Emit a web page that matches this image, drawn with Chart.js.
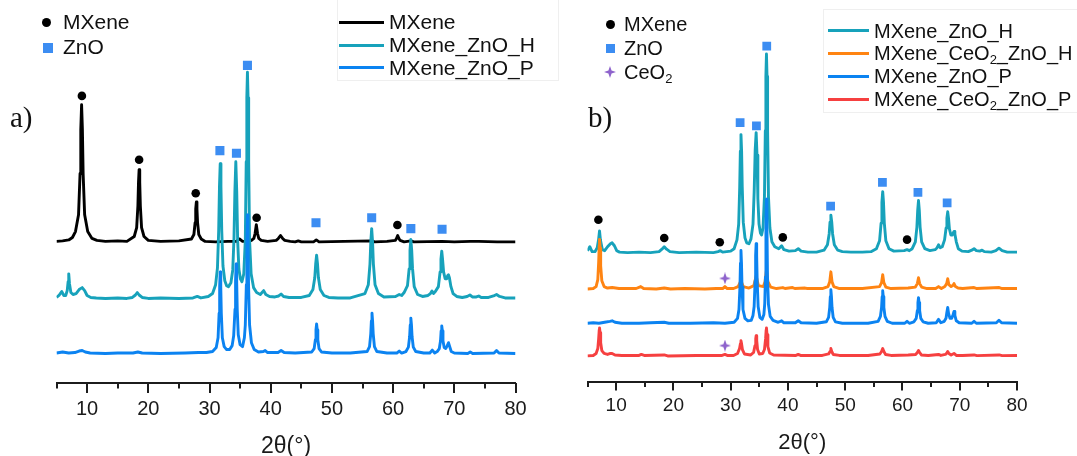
<!DOCTYPE html>
<html>
<head>
<meta charset="utf-8">
<script src="https://cdn.jsdelivr.net/npm/chart.js@4.4.1/dist/chart.umd.min.js"></script>
<style>
  body { margin: 0; background: #fff; width: 1077px; height: 456px; overflow: hidden; position: relative;
         font-family: "Liberation Sans", Arial, sans-serif; color: #111; }
  canvas { position: absolute; top: 0; }
  #chartA { left: 0; }
  #chartB { left: 540px; }
  .lbl { position: absolute; font-size: 21px; line-height: 24px; white-space: nowrap; }
  .lb { font-size: 20px; }
  .sw { position: absolute; height: 3px; }
  .dot { position: absolute; width: 9px; height: 9px; border-radius: 50%; background: #000; }
  .sq { position: absolute; background: #3c8df2; }
  .panel { position: absolute; font-family: "Liberation Serif", "Times New Roman", serif; font-size: 29px; line-height: 30px; }
  .box { position: absolute; border: 1px solid #efefef; }
  sub { font-size: 13px; vertical-align: -4px; line-height: 0; }
</style>
</head>
<body>
<canvas id="chartA" width="540" height="456"></canvas>
<canvas id="chartB" width="537" height="456"></canvas>

<!-- panel a keys -->
<div class="box" style="left:337px;top:-2px;width:220px;height:81px"></div>
<div class="panel" style="left:10px;top:102px">a)</div>
<div class="dot" style="left:42px;top:18px"></div>
<div class="lbl" style="left:63px;top:10px">MXene</div>
<div class="sq" style="left:43px;top:43px;width:10px;height:10px"></div>
<div class="lbl" style="left:63px;top:35px">ZnO</div>
<div class="sw" style="left:339px;top:21px;width:45px;background:#000"></div>
<div class="lbl" style="left:389px;top:10px">MXene</div>
<div class="sw" style="left:339px;top:44px;width:45px;background:#17a2bb"></div>
<div class="lbl" style="left:389px;top:33px">MXene_ZnO_H</div>
<div class="sw" style="left:339px;top:66px;width:45px;background:#0b83f1"></div>
<div class="lbl" style="left:389px;top:56px">MXene_ZnO_P</div>

<!-- panel b keys -->
<div class="box" style="left:823px;top:9px;width:260px;height:102px"></div>
<div class="panel" style="left:588px;top:102px">b)</div>
<div class="dot" style="left:606px;top:20px"></div>
<div class="lbl lb" style="left:624px;top:12px">MXene</div>
<div class="sq" style="left:606px;top:44px;width:9px;height:9px"></div>
<div class="lbl lb" style="left:624px;top:36px">ZnO</div>
<div id="starKey" style="position:absolute;left:604px;top:66px;width:12px;height:12px"></div>
<div class="lbl lb" style="left:624px;top:60px">CeO<sub>2</sub></div>
<div class="sw" style="left:828px;top:29px;width:41px;background:#17a2bb"></div>
<div class="lbl lb" style="left:874px;top:19px">MXene_ZnO_H</div>
<div class="sw" style="left:828px;top:52px;width:41px;background:#ff8412"></div>
<div class="lbl lb" style="left:874px;top:41px">MXene_CeO<sub>2</sub>_ZnO_H</div>
<div class="sw" style="left:828px;top:75px;width:41px;background:#0b83f1"></div>
<div class="lbl lb" style="left:874px;top:64px">MXene_ZnO_P</div>
<div class="sw" style="left:828px;top:98px;width:41px;background:#f64040"></div>
<div class="lbl lb" style="left:874px;top:87px">MXene_CeO<sub>2</sub>_ZnO_P</div>

<script>
// ---- axis ----
const majorTicks = [10, 20, 30, 40, 50, 60, 70, 80];
const minorTicks = [5, 15, 25, 35, 45, 55, 65, 75];

// ---- panel a patterns: [2theta, counts above the trace's own baseline] ----
const mxeneA = [
  [5, 1], [6, 1.5], [7, 2.5], [7.6, 5], [8.1, 11], [8.6, 28], [8.85, 70], [8.97, 115], [9.1, 140], [9.23, 115],
  [9.35, 70], [9.6, 28], [10.1, 11], [10.8, 4], [11.6, 2], [13, 1], [15, 1.5], [16.5, 1], [17.7, 6], [18.1, 15],
  [18.3, 37], [18.4, 61], [18.5, 74], [18.6, 61], [18.7, 37], [18.9, 15], [19.3, 6], [20, 2], [22, 1], [25, 1.5],
  [27.05, 3.5], [27.45, 8], [27.65, 20], [27.75, 34], [27.85, 41], [27.95, 34], [28.05, 20], [28.25, 8], [28.65, 3.5], [29.3, 1],
  [31, 0.5], [33, 1], [34.4, 1], [34.9, 3.5], [35.4, 1], [36.4, 1], [36.85, 2], [37.25, 4], [37.45, 9], [37.65, 18],
  [37.85, 9], [38.05, 4], [38.45, 2], [39.5, 1], [40.9, 2], [41.25, 4], [41.6, 7], [41.95, 4], [42.3, 2], [43.2, 1],
  [44, 0.5], [44.5, 1.5], [45, 0.5], [47, 0.5], [47.45, 2.5], [47.9, 0.5], [52, 1], [56.5, 1.5], [57, 0.5], [59, 1],
  [60.35, 2], [60.55, 4], [60.75, 7], [60.95, 4], [61.15, 2], [61.8, 0.5], [62.9, 1.5], [63.4, 0.5], [68, 1], [70, 0.5],
  [72.6, 1], [74, 1], [77, 0.5], [80, 0.5]
];
const znoHA = [
  [5, 2], [5.4, 4], [5.85, 8], [6.2, 4], [6.5, 4], [6.75, 9], [6.9, 18], [7.0, 26], [7.12, 16], [7.35, 7],
  [7.7, 5], [8.2, 6], [8.7, 10], [9.2, 12], [9.6, 9], [10.0, 4], [10.6, 2], [11.5, 1.5], [13, 1], [15, 1.5],
  [16.5, 1], [17.4, 2], [17.9, 4.5], [18.2, 7], [18.5, 4.5], [19.0, 2], [20, 1], [22, 1.5], [25, 1], [27.3, 1.5],
  [28.0, 3], [28.6, 1.5], [29.8, 3], [30.5, 6], [31.0, 15], [31.3, 32], [31.5, 70], [31.63, 115], [31.75, 138], [31.87, 115],
  [32.0, 70], [32.2, 34], [32.5, 19], [32.8, 14], [33.1, 13], [33.5, 17], [33.8, 30], [34.0, 62], [34.15, 110], [34.3, 140],
  [34.45, 110], [34.6, 60], [34.8, 31], [35.05, 21], [35.3, 18], [35.6, 26], [35.85, 60], [36.0, 140], [36.1, 205], [36.2, 231],
  [36.3, 205], [36.4, 140], [36.55, 60], [36.8, 26], [37.2, 12], [37.7, 7], [38.3, 5], [38.85, 9], [39.2, 5], [39.8, 3],
  [40.7, 2.5], [41.3, 3.5], [41.7, 5.5], [42.1, 3], [43, 2], [45, 2], [46.3, 4], [46.9, 10], [47.2, 22], [47.35, 36],
  [47.5, 45], [47.65, 36], [47.8, 22], [48.1, 10], [48.7, 4], [49.5, 2], [51, 1.5], [53, 1.5], [55.4, 6], [55.95, 15],
  [56.22, 36], [56.36, 59], [56.5, 72], [56.64, 59], [56.78, 36], [57.05, 15], [57.6, 6], [58.5, 2.5], [60.4, 3], [61.0, 5],
  [61.4, 4], [61.8, 7], [62.35, 14], [62.62, 31], [62.76, 50], [62.9, 61], [63.04, 50], [63.18, 31], [63.45, 13], [64.0, 5],
  [64.8, 3], [65.7, 4], [66.1, 6], [66.35, 8.5], [66.6, 6], [66.9, 8], [67.4, 13], [67.68, 28], [67.82, 41], [67.95, 49],
  [68.08, 41], [68.25, 28], [68.5, 21], [68.75, 21], [68.9, 24], [69.05, 25], [69.2, 22], [69.45, 13], [69.8, 6], [70.4, 3],
  [71.3, 2], [72.1, 3], [72.55, 4.5], [72.95, 2.5], [73.6, 2.5], [74.0, 3.5], [74.4, 2], [75.6, 2], [76.4, 3.5], [76.9, 5],
  [77.4, 3], [78.3, 1.5], [80, 1.5]
];
const znoPA = [
  [5, 1.5], [6, 2.5], [7, 1.5], [8, 2], [8.7, 3.5], [9.2, 4], [9.7, 2.5], [10.5, 1.5], [13, 1], [15, 1.5],
  [17.5, 1.5], [18.3, 2.5], [19, 1.5], [22, 1], [26, 1.5], [28.2, 2], [29.5, 2], [30.5, 3], [31.1, 7], [31.4, 17],
  [31.57, 42], [31.66, 69], [31.75, 84], [31.84, 69], [31.93, 42], [32.1, 17], [32.4, 8], [32.8, 5], [33.3, 5], [33.7, 9],
  [33.95, 19], [34.17, 46], [34.26, 75], [34.35, 92], [34.44, 75], [34.53, 46], [34.7, 20], [35.0, 10], [35.4, 8], [35.7, 17],
  [35.85, 30], [36.02, 71], [36.11, 116], [36.2, 142], [36.29, 116], [36.38, 71], [36.55, 30], [36.85, 12], [37.3, 5], [38.0, 2.5],
  [38.8, 3], [39.1, 4], [39.5, 2], [41.2, 2], [41.7, 4], [42.2, 2], [44, 1.5], [46.7, 2.5], [47.1, 6], [47.3, 15],
  [47.4, 25], [47.5, 31], [47.6, 25], [47.7, 15], [47.9, 6], [48.3, 2.5], [50, 1.5], [53, 1.5], [55.75, 3], [56.15, 8],
  [56.35, 21], [56.45, 34], [56.55, 42], [56.65, 34], [56.75, 21], [56.95, 8], [57.35, 3], [59, 1.5], [60.6, 1.5], [61.0, 3.5],
  [61.4, 1.5], [62.1, 3], [62.5, 7.5], [62.7, 18], [62.8, 30], [62.9, 37], [63.0, 30], [63.1, 18], [63.3, 7.5], [63.7, 3],
  [65, 1.5], [66.0, 1.5], [66.4, 4.5], [66.8, 1.5], [67.2, 3], [67.55, 6], [67.75, 14], [67.85, 24], [67.95, 29], [68.05, 24],
  [68.15, 14], [68.35, 7], [68.6, 6], [68.85, 9], [69.05, 12], [69.25, 8], [69.5, 3], [70, 1.5], [72.2, 1], [72.6, 2.5],
  [73, 1], [76.5, 1.5], [76.9, 4], [77.3, 1.5], [80, 1]
];
const offsetsA = [143, 85, 29];
const namesA = ["MXene", "MXene_ZnO_H", "MXene_ZnO_P"];
const colorsA = ["#000000", "#17a2bb", "#0b83f1"];

// reflection markers, panel a
const mxeneMarksA = [[9.15, 292], [18.5, 227], [27.75, 193], [37.7, 168], [60.7, 160.7]];
const znoMarksA = [[31.7, 236.3], [34.4, 233.7], [36.2, 323], [47.4, 163], [56.5, 168], [62.9, 157], [68.0, 156.3]];

// ---- panel b patterns ----
const znoHB = [
  [5, 3], [5.4, 7], [5.8, 2], [6.3, 2], [6.7, 6], [6.95, 15], [7.1, 23], [7.25, 14], [7.6, 4], [8.0, 3],
  [8.5, 7], [9.0, 10], [9.3, 11], [9.7, 8], [10.1, 3], [10.6, 1.5], [12, 1], [14, 1.5], [16, 1], [17.5, 2],
  [18.0, 4.5], [18.4, 7], [18.8, 4.5], [19.4, 2], [21, 1], [24, 1.5], [27, 1], [27.8, 2], [28.2, 3], [28.6, 1.5],
  [30, 2.5], [30.6, 5], [31.1, 14], [31.4, 30], [31.58, 68], [31.69, 104], [31.8, 121], [31.91, 104], [32.02, 68], [32.2, 32],
  [32.5, 16], [32.8, 11], [33.2, 10], [33.55, 15], [33.9, 30], [34.1, 62], [34.28, 105], [34.45, 123], [34.6, 100], [34.75, 56],
  [34.95, 30], [35.2, 21], [35.4, 19], [35.65, 26], [35.9, 58], [36.05, 125], [36.15, 180], [36.25, 203], [36.35, 180], [36.45, 125],
  [36.6, 58], [36.85, 26], [37.2, 12], [37.7, 7], [38.4, 5], [38.9, 8], [39.3, 4], [40.2, 2.5], [41.3, 3], [41.8, 5],
  [42.3, 2.5], [43.5, 1.5], [45, 1.5], [46.3, 3.5], [46.9, 9], [47.2, 20], [47.35, 32], [47.5, 39], [47.65, 32], [47.8, 20],
  [48.1, 9], [48.7, 3.5], [49.5, 2], [51, 1.5], [53, 1.5], [54.5, 2], [55.45, 5], [56.0, 13], [56.27, 31], [56.41, 52],
  [56.55, 63], [56.69, 52], [56.83, 31], [57.1, 13], [57.65, 5], [58.5, 2.5], [60.3, 3], [60.8, 4], [61.2, 3], [61.7, 5],
  [62.25, 12], [62.52, 27], [62.66, 44], [62.8, 54], [62.94, 44], [63.08, 27], [63.35, 12], [63.9, 5], [64.8, 3], [65.7, 4],
  [66.05, 6], [66.3, 9], [66.6, 6], [66.95, 7], [67.35, 14], [67.62, 26], [67.76, 36], [67.9, 42.5], [68.04, 36], [68.2, 25],
  [68.45, 19], [68.7, 19], [68.85, 21], [69.0, 22.5], [69.15, 20], [69.4, 12], [69.75, 5], [70.4, 2.5], [71.5, 2], [72.1, 3.5],
  [72.5, 5], [72.9, 3], [73.5, 2.5], [73.9, 3.5], [74.3, 2], [75.5, 1.5], [76.3, 3], [76.85, 5.5], [77.4, 3], [78.3, 1.5],
  [80, 1.5]
];
const ceoHB = [
  [5, 0.5], [6, 1], [6.5, 3], [6.8, 10], [6.95, 28], [7.05, 45], [7.1, 51], [7.2, 42], [7.3, 24], [7.5, 9],
  [7.9, 3], [8.5, 1.5], [9.3, 2], [10.5, 1], [13.5, 1], [14.3, 3], [14.8, 1], [17, 0.5], [18.4, 1.5], [19.5, 0.5],
  [22, 1], [25.5, 0.5], [27.5, 1], [28.6, 1], [29.0, 3], [29.4, 1], [30.5, 1], [31.3, 3], [31.8, 9], [32.2, 3],
  [33.2, 1.5], [34.05, 4], [34.45, 14], [34.85, 4], [35.7, 3], [36.0, 8], [36.25, 20], [36.5, 8], [37, 2.5], [38, 1],
  [39.1, 2], [39.5, 1], [40.8, 2], [41.2, 1], [43, 1.5], [43.4, 1], [46, 1], [47.0, 3], [47.3, 8], [47.5, 18],
  [47.7, 8], [48.0, 3], [49, 1], [53, 1], [56.0, 3], [56.35, 7], [56.55, 15], [56.75, 7], [57.1, 2.5], [58, 1],
  [61, 1.5], [62.25, 2.5], [62.6, 6], [62.8, 12], [63.0, 6], [63.35, 2.5], [64.3, 1], [65.8, 1], [66.3, 3], [66.8, 1],
  [67.4, 3], [67.72, 6], [67.9, 11], [68.1, 5], [68.5, 3], [68.8, 4], [69.0, 6], [69.25, 3], [69.7, 1.5], [70.5, 1],
  [72.5, 2], [73, 1], [76.9, 2], [77.4, 1], [80, 1]
];
const znoPB = [
  [5, 1], [6, 1.5], [7, 1], [8, 2], [8.9, 3], [9.3, 3.5], [9.8, 2], [11, 1], [14, 1], [16, 1.5],
  [18.4, 2], [19.2, 1], [23, 1], [27, 1.5], [29, 1], [30.6, 2], [31.2, 6], [31.45, 15], [31.62, 38], [31.71, 62],
  [31.8, 75], [31.89, 62], [31.98, 38], [32.15, 15], [32.5, 6], [33.0, 3.5], [33.6, 4], [33.9, 9], [34.1, 18], [34.27, 44],
  [34.36, 70], [34.45, 82], [34.54, 70], [34.63, 44], [34.8, 18], [35.1, 7], [35.5, 5], [35.8, 10], [35.95, 21], [36.07, 48],
  [36.16, 98], [36.25, 127], [36.34, 98], [36.43, 48], [36.6, 20], [36.9, 8], [37.4, 4], [38.3, 2], [38.9, 3.5], [39.3, 1.5],
  [41.3, 1.5], [41.8, 3.5], [42.3, 1.5], [45, 1], [46.7, 2.5], [47.1, 7], [47.3, 17], [47.4, 28], [47.5, 35], [47.6, 28],
  [47.7, 17], [47.9, 7], [48.3, 2.5], [49.5, 1], [54, 1], [55.75, 3], [56.15, 8], [56.35, 17], [56.45, 28], [56.55, 34],
  [56.65, 28], [56.75, 17], [56.95, 8], [57.35, 3], [58.2, 1], [60.4, 1], [60.8, 3], [61.2, 1], [62.0, 2.5], [62.4, 6],
  [62.6, 14], [62.7, 22], [62.8, 27], [62.9, 22], [63.0, 14], [63.2, 6], [63.6, 2.5], [64.5, 1], [65.9, 1.5], [66.3, 5],
  [66.7, 1.5], [67.3, 3], [67.6, 6], [67.75, 12], [67.9, 17], [68.05, 11], [68.3, 6], [68.6, 6], [68.85, 10], [69.0, 13],
  [69.15, 9], [69.4, 3.5], [69.9, 1.5], [72.1, 1], [72.5, 3], [72.9, 1], [76.4, 1.5], [76.85, 4], [77.3, 1.5], [80, 1]
];
const ceoPB = [
  [5, 0.5], [6, 1], [6.5, 3], [6.8, 8], [6.95, 18], [7.05, 27], [7.1, 29], [7.2, 24], [7.3, 14], [7.5, 6],
  [7.9, 3], [8.5, 2], [9.0, 3], [9.3, 3], [9.8, 1.5], [11, 1], [14, 1], [14.4, 2], [14.9, 1], [18.4, 1.5],
  [19, 0.5], [24, 1], [28.5, 1], [29.0, 2], [29.4, 1], [30.5, 1], [31.2, 3], [31.55, 8], [31.7, 13], [31.8, 16],
  [31.9, 13], [32.05, 7], [32.4, 2.5], [33.5, 1.5], [34.0, 4], [34.25, 11], [34.38, 18], [34.45, 21], [34.55, 16], [34.7, 7],
  [35.0, 2.5], [35.6, 3], [35.9, 7], [36.1, 18], [36.2, 27], [36.25, 29], [36.35, 22], [36.5, 10], [36.8, 3.5], [37.5, 1.5],
  [41.4, 1], [41.8, 2], [42.2, 1], [46, 1], [47.1, 2.5], [47.35, 5], [47.5, 8], [47.65, 5], [47.9, 2], [49, 1],
  [54, 1], [56.05, 2.5], [56.35, 5], [56.55, 8], [56.75, 5], [57.05, 2], [58, 1], [61, 1.5], [62.3, 2], [62.6, 4],
  [62.8, 6], [63.0, 4], [63.3, 1.5], [64.5, 1], [66.3, 2], [66.7, 1], [67.5, 2], [67.75, 3.5], [67.9, 5], [68.1, 3],
  [68.5, 1.5], [69.0, 3], [69.4, 1], [70.5, 1], [72.5, 1.5], [73, 0.8], [76.9, 1.5], [77.4, 0.8], [80, 1]
];
const offsetsB = [130.5, 94, 58.7, 26];
const namesB = ["MXene_ZnO_H", "MXene_CeO2_ZnO_H", "MXene_ZnO_P", "MXene_CeO2_ZnO_P"];
const colorsB = ["#17a2bb", "#ff8412", "#0b83f1", "#f64040"];

// reflection markers, panel b
const mxeneMarksB = [[6.9, 165], [18.4, 146.3], [28.1, 142], [39.1, 147], [60.8, 144.7]];
const znoMarksB = [[31.65, 263.7], [34.5, 260.3], [36.3, 341.3], [47.45, 178.7], [56.5, 203], [62.7, 192.7], [67.8, 182]];
const ceoMarksB = [[29.0, 105.3], [29.0, 37]];

// ---- helpers ----
const FONT = "'Liberation Sans', Arial, sans-serif";
const AXIS_COLOR = "#1c1c1c";

function starImage(size, color) {
  const c = document.createElement("canvas");
  c.width = c.height = size;
  const g = c.getContext("2d");
  const m = size / 2, k = size * 0.13;
  g.fillStyle = color;
  g.beginPath();
  g.moveTo(m, 0);
  g.lineTo(m + k, m - k);
  g.lineTo(size, m);
  g.lineTo(m + k, m + k);
  g.lineTo(m, size);
  g.lineTo(m - k, m + k);
  g.lineTo(0, m);
  g.lineTo(m - k, m - k);
  g.closePath();
  g.fill();
  return c;
}
const ceoStar = starImage(12, "#8e63cc");
document.getElementById("starKey").appendChild(starImage(12, "#8e63cc"));

function trace(points, offset, label, color, order) {
  return {
    label,
    data: points.map(([x, y]) => ({ x, y: y + offset })),
    borderColor: color,
    borderWidth: 2.9,
    pointRadius: 0,
    tension: 0,
    borderJoinStyle: "round",
    order
  };
}

function markers(points, style, color, radius) {
  return {
    data: points.map(([x, y]) => ({ x, y })),
    showLine: false,
    pointStyle: style,
    pointRadius: radius,
    backgroundColor: color,
    borderWidth: 0,
    order: 0
  };
}

// major / minor tick marks under the axis line
const tickMarks = {
  id: "tickMarks",
  afterDraw(chart, args, opts) {
    const xs = chart.scales.x, ctx = chart.ctx, y0 = chart.chartArea.bottom;
    ctx.save();
    ctx.strokeStyle = AXIS_COLOR;
    ctx.lineWidth = 2;
    ctx.beginPath();
    majorTicks.forEach(v => { const p = Math.round(xs.getPixelForValue(v)); ctx.moveTo(p, y0); ctx.lineTo(p, y0 + opts.major); });
    minorTicks.forEach(v => { const p = Math.round(xs.getPixelForValue(v)); ctx.moveTo(p, y0); ctx.lineTo(p, y0 + opts.minor); });
    ctx.stroke();
    ctx.restore();
  }
};

function makeChart(id, datasets, cfg) {
  return new Chart(document.getElementById(id), {
    type: "line",
    data: { datasets },
    options: {
      responsive: false,
      animation: false,
      layout: { padding: { left: cfg.left, right: cfg.right, top: 0, bottom: 0 } },
      plugins: {
        legend: { display: false },
        tooltip: { enabled: false },
        tickMarks: { major: cfg.major, minor: cfg.minor }
      },
      scales: {
        x: {
          type: "linear",
          min: 5,
          max: 80,
          afterBuildTicks: s => { s.ticks = [...minorTicks, ...majorTicks].sort((a, b) => a - b).map(v => ({ value: v })); },
          afterFit: s => { s.height = cfg.axisHeight; },
          ticks: {
            autoSkip: false,
            maxRotation: 0,
            padding: cfg.labelPad,
            color: "#1a1a1a",
            font: { family: FONT, size: cfg.tickSize, lineHeight: 1.2 },
            callback: v => (majorTicks.includes(v) ? v : "")
          },
          grid: { drawOnChartArea: false, tickLength: cfg.major, tickColor: "rgba(0,0,0,0)" },
          border: { display: true, color: AXIS_COLOR, width: 2 },
          title: {
            display: true,
            text: "2θ(°)",
            color: "#1a1a1a",
            font: { family: FONT, size: cfg.titleSize, lineHeight: 0.8 },
            padding: { top: 0, bottom: cfg.titlePad }
          }
        },
        y: { display: false, min: 0, max: cfg.yMax }
      }
    },
    plugins: [tickMarks]
  });
}

// ---- panel a ----
makeChart("chartA", [
  trace(mxeneA, offsetsA[0], namesA[0], colorsA[0], 3),
  trace(znoHA, offsetsA[1], namesA[1], colorsA[1], 2),
  trace(znoPA, offsetsA[2], namesA[2], colorsA[2], 1),
  markers(mxeneMarksA, "circle", "#000000", 4.3),
  markers(znoMarksA, "rect", "#3c8df2", 6.4)
], { left: 56.5, right: 24.5, axisHeight: 73, yMax: 383, major: 10, minor: 5.5,
     labelPad: 4, tickSize: 20, titleSize: 23, titlePad: 0.5 });

// ---- panel b ----
makeChart("chartB", [
  trace(znoHB, offsetsB[0], namesB[0], colorsB[0], 4),
  trace(ceoHB, offsetsB[1], namesB[1], colorsB[1], 3),
  trace(znoPB, offsetsB[2], namesB[2], colorsB[2], 2),
  trace(ceoPB, offsetsB[3], namesB[3], colorsB[3], 1),
  markers(mxeneMarksB, "circle", "#000000", 4.3),
  markers(znoMarksB, "rect", "#3c8df2", 6.2),
  markers(ceoMarksB, ceoStar, "#8e63cc", 6)
], { left: 47.5, right: 60, axisHeight: 74, yMax: 382, major: 8.5, minor: 5,
     labelPad: 4, tickSize: 19, titleSize: 22, titlePad: 4.5 });
</script>
</body>
</html>
